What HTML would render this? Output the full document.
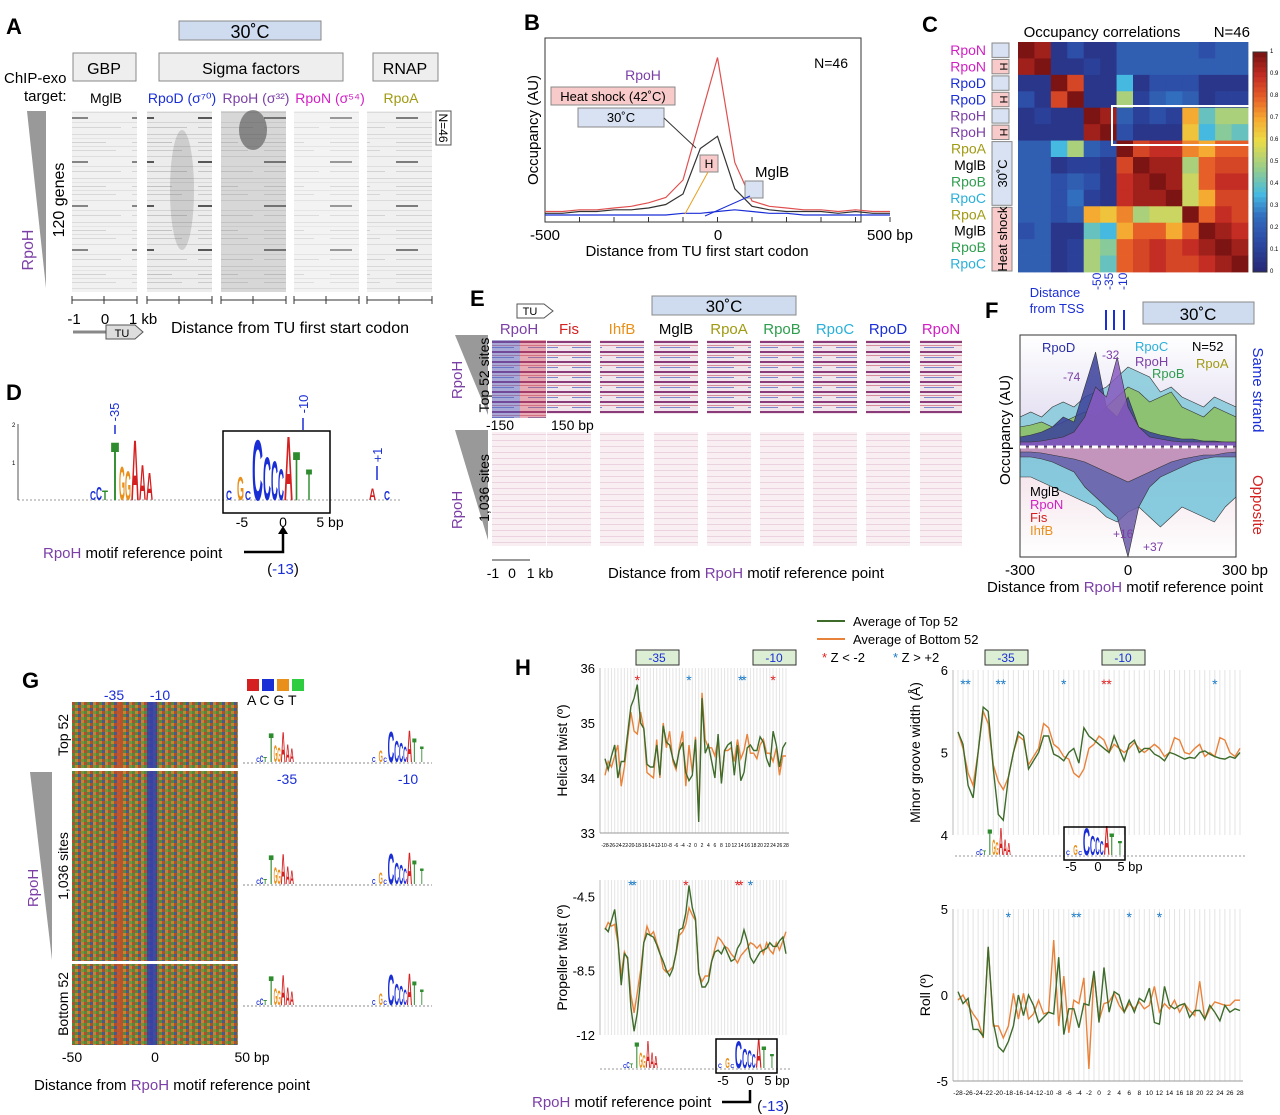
<!DOCTYPE html>
<html><head><meta charset="utf-8">
<style>
html,body{margin:0;padding:0;background:#fff;}
svg{display:block;font-family:"Liberation Sans",Arial,sans-serif;}
</style></head>
<body>
<svg id="fig" width="1280" height="1115" viewBox="0 0 1280 1115" xmlns="http://www.w3.org/2000/svg">
<defs>
  <pattern id="grayHeat" width="66" height="44" patternUnits="userSpaceOnUse">
    <rect width="66" height="44" fill="#eaeaea"/>
    <rect y="2" width="66" height="1" fill="#c8c8c8"/>
    <rect y="6" width="66" height="1" fill="#d6d6d6"/>
    <rect y="10" width="40" height="1" fill="#bbb"/>
    <rect y="14" width="66" height="1" fill="#d0d0d0"/>
    <rect y="18" width="50" height="1" fill="#c4c4c4"/>
    <rect y="24" width="66" height="1" fill="#ccc"/>
    <rect y="29" width="22" height="2" fill="#444"/>
    <rect y="34" width="66" height="1" fill="#d0d0d0"/>
    <rect y="39" width="55" height="1" fill="#c0c0c0"/>
  </pattern>
  <pattern id="colorHeat" width="12" height="6" patternUnits="userSpaceOnUse">
    <rect width="3" height="3" fill="#c23b2a"/><rect x="3" width="3" height="3" fill="#3d8f3a"/>
    <rect x="6" width="3" height="3" fill="#2e49b5"/><rect x="9" width="3" height="3" fill="#d88a2c"/>
    <rect y="3" width="3" height="3" fill="#3d8f3a"/><rect x="3" y="3" width="3" height="3" fill="#d88a2c"/>
    <rect x="6" y="3" width="3" height="3" fill="#c23b2a"/><rect x="9" y="3" width="3" height="3" fill="#6aa33a"/>
  </pattern>
  <pattern id="rbHeat" width="44" height="10" patternUnits="userSpaceOnUse">
    <rect width="44" height="10" fill="#f1e4ea"/>
    <rect y="1" width="44" height="2" fill="#8c3b7a"/>
    <rect y="5" width="44" height="1" fill="#d68a9a"/>
    <rect y="7" width="30" height="1" fill="#7d86c9"/>
  </pattern>
  <pattern id="pinkHeat" width="44" height="6" patternUnits="userSpaceOnUse">
    <rect width="44" height="6" fill="#f9eff3"/>
    <rect y="2" width="44" height="1" fill="#ead3de"/>
  </pattern>
  <linearGradient id="fUp" x1="0" y1="0" x2="0" y2="1"><stop offset="0" stop-color="#fff"/><stop offset="1" stop-color="#dcd6ee"/></linearGradient>
  <linearGradient id="fDn" x1="0" y1="0" x2="0" y2="1"><stop offset="0" stop-color="#f1dde6"/><stop offset="1" stop-color="#fff"/></linearGradient>
</defs>

<!-- Panel A -->
<g>
  <text x="6" y="34" font-size="22" font-weight="bold">A</text>
  <rect x="179" y="21" width="142" height="19" fill="#cfdcf0" stroke="#888"/>
  <text x="250" y="38" font-size="18" text-anchor="middle">30˚C</text>
  <rect x="73" y="53" width="63" height="28" fill="#eee" stroke="#888"/>
  <text x="104" y="74" font-size="16" text-anchor="middle">GBP</text>
  <rect x="159" y="53" width="184" height="28" fill="#eee" stroke="#888"/>
  <text x="251" y="74" font-size="16" text-anchor="middle">Sigma factors</text>
  <rect x="373" y="53" width="65" height="28" fill="#eee" stroke="#888"/>
  <text x="405" y="74" font-size="16" text-anchor="middle">RNAP</text>
  <text x="4" y="83" font-size="15">ChIP-exo</text>
  <text x="24" y="101" font-size="15">target:</text>
  <text x="106" y="103" font-size="14" text-anchor="middle">MglB</text>
  <text x="182" y="103" font-size="14" text-anchor="middle" fill="#1a2ed6">RpoD (σ⁷⁰)</text>
  <text x="256" y="103" font-size="14" text-anchor="middle" fill="#7b3fa6">RpoH (σ³²)</text>
  <text x="330" y="103" font-size="14" text-anchor="middle" fill="#d21fc4">RpoN (σ⁵⁴)</text>
  <text x="401" y="103" font-size="14" text-anchor="middle" fill="#a09a12">RpoA</text>
  <polygon points="27,111 46,111 46,288" fill="#999"/>
  <text transform="translate(64,200) rotate(-90)" font-size="16" text-anchor="middle">120 genes</text>
  <text transform="translate(33,250) rotate(-90)" font-size="16" text-anchor="middle" fill="#7b3fa6">RpoH</text>
  <g id="aHeat"></g>
  <rect x="436" y="111" width="15" height="34" fill="#fff" stroke="#555"/>
  <text transform="translate(439,128) rotate(90)" font-size="12" text-anchor="middle">N=46</text>
  <text x="74" y="324" font-size="15" text-anchor="middle">-1</text>
  <text x="105" y="324" font-size="15" text-anchor="middle">0</text>
  <text x="143" y="324" font-size="15" text-anchor="middle">1 kb</text>
  <line x1="73" y1="332" x2="108" y2="332" stroke="#888" stroke-width="3"/>
  <polygon points="106,325 135,325 143,332 135,339 106,339" fill="#ddd" stroke="#555"/>
  <text x="122" y="337" font-size="11" text-anchor="middle">TU</text>
  <text x="290" y="333" font-size="16" text-anchor="middle">Distance from TU first start codon</text>
</g>

<!-- Panel B -->
<g>
  <text x="524" y="30" font-size="22" font-weight="bold">B</text>
  <rect x="545" y="38" width="316" height="184" fill="none" stroke="#333"/>
  <g id="bChart"></g>
  <text x="848" y="68" font-size="14" text-anchor="end">N=46</text>
  <text x="643" y="80" font-size="14" text-anchor="middle" fill="#7b3fa6">RpoH</text>
  <rect x="551" y="87" width="124" height="18" fill="#f8caca" stroke="#888"/>
  <text x="613" y="101" font-size="13" text-anchor="middle">Heat shock (42˚C)</text>
  <rect x="578" y="108" width="86" height="19" fill="#d8e2f2" stroke="#888"/>
  <text x="621" y="122" font-size="13" text-anchor="middle">30˚C</text>
  <rect x="700" y="155" width="18" height="17" fill="#f8caca" stroke="#888"/>
  <text x="709" y="168" font-size="12" text-anchor="middle">H</text>
  <rect x="745" y="181" width="18" height="17" fill="#d8e2f2" stroke="#888"/>
  <text x="755" y="177" font-size="15">MglB</text>
  <line x1="664" y1="118" x2="696" y2="148" stroke="#333"/>
  <line x1="708" y1="172" x2="685" y2="214" stroke="#e8a020"/>
  <line x1="750" y1="196" x2="705" y2="216" stroke="#1a2ed6"/>
  <text transform="translate(538,130) rotate(-90)" font-size="15" text-anchor="middle">Occupancy (AU)</text>
  <text x="545" y="240" font-size="15" text-anchor="middle">-500</text>
  <text x="718" y="240" font-size="15" text-anchor="middle">0</text>
  <text x="890" y="240" font-size="15" text-anchor="middle">500 bp</text>
  <text x="697" y="256" font-size="15" text-anchor="middle">Distance from TU first start codon</text>
</g>

<!-- Panel C -->
<g>
  <text x="922" y="32" font-size="22" font-weight="bold">C</text>
  <text x="1102" y="37" font-size="15" text-anchor="middle">Occupancy correlations</text>
  <text x="1250" y="37" font-size="15" text-anchor="end">N=46</text>
  <g id="cChart"></g>
  <g id="cLabels"></g>
  <rect x="1112" y="106" width="138" height="39" fill="none" stroke="#fff" stroke-width="2"/>
  <g id="cBar"></g>
  <rect x="1253" y="52" width="14" height="220" fill="none" stroke="#333"/>
</g>

<!-- Panel D -->
<g>
  <text x="6" y="400" font-size="22" font-weight="bold">D</text>
  <line x1="18" y1="500" x2="400" y2="500" stroke="#999" stroke-dasharray="2,2"/>
  <line x1="18" y1="424" x2="18" y2="500" stroke="#555"/>
  <text x="12" y="427" font-size="6">2</text>
  <text x="12" y="465" font-size="6">1</text>
  <text transform="translate(119,412) rotate(-90)" font-size="13" fill="#1a2ed6" text-anchor="middle">-35</text>
  <line x1="115" y1="425" x2="115" y2="434" stroke="#1a2ed6" stroke-width="1.5"/>
  <text transform="translate(308,404) rotate(-90)" font-size="13" fill="#1a2ed6" text-anchor="middle">-10</text>
  <line x1="303" y1="418" x2="303" y2="430" stroke="#1a2ed6" stroke-width="1.5"/>
  <text transform="translate(382,455) rotate(-90)" font-size="13" fill="#1a2ed6" text-anchor="middle">+1</text>
  <line x1="377" y1="466" x2="377" y2="480" stroke="#1a2ed6" stroke-width="1.5"/>
  <g id="dLogo"></g>
  <rect x="223" y="431" width="107" height="82" fill="none" stroke="#000" stroke-width="1.5"/>
  <text x="242" y="527" font-size="14" text-anchor="middle">-5</text>
  <text x="283" y="527" font-size="14" text-anchor="middle">0</text>
  <text x="330" y="527" font-size="14" text-anchor="middle">5 bp</text>
  <text x="43" y="558" font-size="15"><tspan fill="#7b3fa6">RpoH</tspan> motif reference point</text>
  <path d="M244,552 H283 V532" fill="none" stroke="#000" stroke-width="2.5"/>
  <polygon points="278,534 288,534 283,526" fill="#000"/>
  <text x="283" y="574" font-size="15" text-anchor="middle">(<tspan fill="#1a2ed6">-13</tspan>)</text>
</g>

<!-- Panel E -->
<g>
  <text x="470" y="306" font-size="22" font-weight="bold">E</text>
  <polygon points="517,304 544,304 553,311 544,318 517,318" fill="#fff" stroke="#555"/>
  <text x="530" y="315" font-size="11" text-anchor="middle">TU</text>
  <rect x="652" y="296" width="144" height="19" fill="#cfdcf0" stroke="#888"/>
  <text x="724" y="312" font-size="17" text-anchor="middle">30˚C</text>
  <polygon points="455,335 488,335 488,415" fill="#999"/>
  <polygon points="455,430 488,430 488,540" fill="#999"/>
  <text transform="translate(462,380) rotate(-90)" font-size="15" text-anchor="middle" fill="#7b3fa6">RpoH</text>
  <text transform="translate(489,375) rotate(-90)" font-size="14" text-anchor="middle">Top 52 sites</text>
  <text transform="translate(462,510) rotate(-90)" font-size="15" text-anchor="middle" fill="#7b3fa6">RpoH</text>
  <text transform="translate(489,488) rotate(-90)" font-size="14" text-anchor="middle">1,036 sites</text>
  <g id="eHeat"></g>
  <text x="486" y="430" font-size="14">-150</text>
  <text x="551" y="430" font-size="14">150 bp</text>
  <text x="493" y="578" font-size="14" text-anchor="middle">-1</text>
  <text x="512" y="578" font-size="14" text-anchor="middle">0</text>
  <text x="540" y="578" font-size="14" text-anchor="middle">1 kb</text>
  <line x1="492" y1="560" x2="530" y2="560" stroke="#333"/>
  <text x="746" y="578" font-size="15" text-anchor="middle">Distance from <tspan fill="#7b3fa6">RpoH</tspan> motif reference point</text>
</g>

<!-- Panel F -->
<g>
  <text x="985" y="318" font-size="22" font-weight="bold">F</text>
  <text x="1055" y="297" font-size="13" text-anchor="middle" fill="#1a2ed6">Distance</text>
  <text x="1057" y="313" font-size="13" text-anchor="middle" fill="#1a2ed6">from TSS</text>
  <text x="1101" y="290" font-size="12" fill="#1a2ed6" transform="rotate(-90 1101 290)">-50</text>
  <text x="1113" y="290" font-size="12" fill="#1a2ed6" transform="rotate(-90 1113 290)">-35</text>
  <text x="1127" y="290" font-size="12" fill="#1a2ed6" transform="rotate(-90 1127 290)">-10</text>
  <path d="M1106,310 V330 M1114,310 V330 M1124,310 V330" stroke="#1a2ed6" stroke-width="2"/>
  <rect x="1143" y="302" width="111" height="22" fill="#cfdcf0" stroke="#888"/>
  <text x="1198" y="320" font-size="17" text-anchor="middle">30˚C</text>
  <rect x="1020" y="335" width="216" height="112" fill="url(#fUp)"/>
  <rect x="1020" y="447" width="216" height="110" fill="url(#fDn)"/>
  <g id="fChart"></g>
  <rect x="1020" y="335" width="216" height="222" fill="none" stroke="#333"/>
  <line x1="1020" y1="447" x2="1236" y2="447" stroke="#fff" stroke-width="3" stroke-dasharray="6,3"/>
  <text x="1192" y="351" font-size="13">N=52</text>
  <text x="1042" y="352" font-size="13" fill="#2a2ea6">RpoD</text>
  <text x="1135" y="351" font-size="13" fill="#2ab0d8">RpoC</text>
  <text x="1135" y="366" font-size="13" fill="#7b3fa6">RpoH</text>
  <text x="1152" y="378" font-size="13" fill="#2e9e4e">RpoB</text>
  <text x="1196" y="368" font-size="13" fill="#a09a12">RpoA</text>
  <text x="1102" y="359" font-size="12" fill="#7b3fa6">-32</text>
  <text x="1063" y="381" font-size="12" fill="#7b3fa6">-74</text>
  <text x="1030" y="496" font-size="13">MglB</text>
  <text x="1030" y="509" font-size="13" fill="#d21fc4">RpoN</text>
  <text x="1030" y="522" font-size="13" fill="#d42020">Fis</text>
  <text x="1030" y="535" font-size="13" fill="#e8901a">IhfB</text>
  <text x="1113" y="538" font-size="12" fill="#7b3fa6">+16</text>
  <text x="1143" y="551" font-size="12" fill="#7b3fa6">+37</text>
  <text transform="translate(1010,430) rotate(-90)" font-size="15" text-anchor="middle">Occupancy (AU)</text>
  <text transform="translate(1253,390) rotate(90)" font-size="15" text-anchor="middle" fill="#1a2ed6">Same strand</text>
  <text transform="translate(1253,505) rotate(90)" font-size="15" text-anchor="middle" fill="#d42020">Opposite</text>
  <text x="1020" y="575" font-size="15" text-anchor="middle">-300</text>
  <text x="1128" y="575" font-size="15" text-anchor="middle">0</text>
  <text x="1245" y="575" font-size="15" text-anchor="middle">300 bp</text>
  <text x="1125" y="592" font-size="15" text-anchor="middle">Distance from <tspan fill="#7b3fa6">RpoH</tspan> motif reference point</text>
</g>

<!-- Panel G -->
<g>
  <text x="22" y="688" font-size="22" font-weight="bold">G</text>
  <text x="114" y="700" font-size="14" fill="#1a2ed6" text-anchor="middle">-35</text>
  <text x="160" y="700" font-size="14" fill="#1a2ed6" text-anchor="middle">-10</text>
  <rect x="72" y="702" width="166" height="343" fill="url(#colorHeat)"/>
  <rect x="72" y="702" width="166" height="343" fill="#8a7a40" opacity="0.3"/>
  <rect x="117" y="702" width="6" height="343" fill="#c84a2a" opacity="0.8"/>
  <rect x="147" y="702" width="10" height="343" fill="#3040b0" opacity="0.85"/>
  <rect x="72" y="768" width="166" height="3" fill="#fff"/>
  <rect x="72" y="961" width="166" height="3" fill="#fff"/>
  <polygon points="30,772 52,772 52,960" fill="#999"/>
  <text transform="translate(38,888) rotate(-90)" font-size="15" text-anchor="middle" fill="#7b3fa6">RpoH</text>
  <text transform="translate(68,735) rotate(-90)" font-size="14" text-anchor="middle">Top 52</text>
  <text transform="translate(68,866) rotate(-90)" font-size="14" text-anchor="middle">1,036 sites</text>
  <text transform="translate(68,1004) rotate(-90)" font-size="14" text-anchor="middle">Bottom 52</text>
  <text x="72" y="1062" font-size="14" text-anchor="middle">-50</text>
  <text x="155" y="1062" font-size="14" text-anchor="middle">0</text>
  <text x="252" y="1062" font-size="14" text-anchor="middle">50 bp</text>
  <text x="172" y="1090" font-size="15" text-anchor="middle">Distance from <tspan fill="#7b3fa6">RpoH</tspan> motif reference point</text>
  <rect x="247" y="679" width="12" height="12" fill="#d42020"/>
  <rect x="262" y="679" width="12" height="12" fill="#1a2ed6"/>
  <rect x="277" y="679" width="12" height="12" fill="#e8901a"/>
  <rect x="292" y="679" width="12" height="12" fill="#2ecc40"/>
  <text x="247" y="705" font-size="14">A C G T</text>
  <text x="287" y="784" font-size="14" fill="#1a2ed6" text-anchor="middle">-35</text>
  <text x="408" y="784" font-size="14" fill="#1a2ed6" text-anchor="middle">-10</text>
  <g id="gLogos"></g>
</g>

<!-- Panel H -->
<g>
  <text x="515" y="675" font-size="22" font-weight="bold">H</text>
  <line x1="817" y1="621" x2="845" y2="621" stroke="#3d6b2a" stroke-width="2"/>
  <text x="853" y="626" font-size="13">Average of Top 52</text>
  <line x1="817" y1="639" x2="845" y2="639" stroke="#e8823a" stroke-width="2"/>
  <text x="853" y="644" font-size="13">Average of Bottom 52</text>
  <text x="822" y="662" font-size="13"><tspan fill="#e02020">*</tspan> Z &lt; -2</text>
  <text x="893" y="662" font-size="13"><tspan fill="#1a7ac8">*</tspan> Z &gt; +2</text>
  <rect x="636" y="650" width="43" height="15" fill="#dcefd4" stroke="#333"/>
  <text x="657" y="662" font-size="12" fill="#1a2ed6" text-anchor="middle">-35</text>
  <rect x="753" y="650" width="43" height="15" fill="#dcefd4" stroke="#333"/>
  <text x="774" y="662" font-size="12" fill="#1a2ed6" text-anchor="middle">-10</text>
  <rect x="985" y="650" width="43" height="15" fill="#dcefd4" stroke="#333"/>
  <text x="1006" y="662" font-size="12" fill="#1a2ed6" text-anchor="middle">-35</text>
  <rect x="1102" y="650" width="43" height="15" fill="#dcefd4" stroke="#333"/>
  <text x="1123" y="662" font-size="12" fill="#1a2ed6" text-anchor="middle">-10</text>
  <g id="hCharts"></g>
  <g id="hLogos"></g>
  <line x1="600" y1="1069" x2="790" y2="1069" stroke="#999" stroke-dasharray="2,2"/>
  <rect x="716" y="1039" width="61" height="34" fill="none" stroke="#000" stroke-width="1.5"/>
  <text x="723" y="1085" font-size="13" text-anchor="middle">-5</text>
  <text x="750" y="1085" font-size="13" text-anchor="middle">0</text>
  <text x="777" y="1085" font-size="13" text-anchor="middle">5 bp</text>
  <text x="532" y="1107" font-size="15"><tspan fill="#7b3fa6">RpoH</tspan> motif reference point</text>
  <path d="M722,1102 H750 V1090" fill="none" stroke="#000" stroke-width="2.5"/>
  <text x="773" y="1111" font-size="15" text-anchor="middle">(<tspan fill="#1a2ed6">-13</tspan>)</text>
  <line x1="955" y1="856" x2="1245" y2="856" stroke="#999" stroke-dasharray="2,2"/>
  <rect x="1064" y="827" width="61" height="33" fill="none" stroke="#000" stroke-width="1.5"/>
  <text x="1071" y="871" font-size="13" text-anchor="middle">-5</text>
  <text x="1098" y="871" font-size="13" text-anchor="middle">0</text>
  <text x="1130" y="871" font-size="13" text-anchor="middle">5 bp</text>
</g>
</svg>

<script>
// ---- Panel B data ----
var bPositions = [-500,-450,-400,-350,-300,-250,-200,-150,-100,-50,0,50,100,150,200,250,300,350,400,450,500];
var bHeatShock = [2,2,3,3,4,5,7,10,20,55,90,30,8,5,4,3,3,2,3,2,2];
var bThirty    = [1,1,2,2,3,3,4,6,12,38,45,15,5,3,2,2,2,1,2,1,1];
var bMglB      = [0,0,0,0,0,0,0,0,1,1,2,3,2,1,1,0,0,0,0,0,0];

// ---- Panel C data ----
var cLabels = ["RpoN","RpoN","RpoD","RpoD","RpoH","RpoH","RpoA","MglB","RpoB","RpoC","RpoA","MglB","RpoB","RpoC"];
var cLabelColors = ["#d21fc4","#d21fc4","#1a2ed6","#1a2ed6","#7b3fa6","#7b3fa6","#a09a12","#000","#2e9e4e","#2ab0d8","#a09a12","#000","#2e9e4e","#2ab0d8"];
var cMatrix = [
 [1,.95,.05,.15,.05,.05,.2,.2,.2,.2,.2,.15,.2,.2],
 [.95,1,.05,.05,.1,.05,.2,.2,.2,.2,.2,.2,.2,.2],
 [.05,.05,1,.85,.05,.05,.35,.05,.15,.15,.15,.05,.05,.05],
 [.15,.05,.85,1,.05,.05,.5,.1,.2,.25,.2,.05,.1,.1],
 [.05,.1,.05,.05,1,.95,.2,.1,.15,.1,.7,.4,.5,.5],
 [.05,.05,.05,.05,.95,1,.15,.05,.05,.05,.65,.35,.45,.4],
 [.2,.2,.35,.5,.2,.15,1,.85,.9,.9,.75,.7,.8,.8],
 [.2,.2,.05,.1,.1,.05,.85,1,.95,.95,.5,.8,.85,.85],
 [.2,.2,.15,.2,.15,.05,.9,.95,1,.95,.55,.8,.9,.9],
 [.2,.2,.15,.25,.1,.05,.9,.95,.95,1,.55,.7,.85,.85],
 [.2,.2,.15,.2,.7,.65,.75,.5,.55,.55,1,.8,.9,.85],
 [.15,.2,.05,.05,.4,.35,.7,.8,.8,.7,.8,1,.95,.9],
 [.2,.2,.05,.1,.5,.45,.8,.85,.9,.85,.9,.95,1,.95],
 [.2,.2,.05,.1,.5,.4,.8,.85,.9,.85,.85,.9,.95,1]
];
var cBarTicks = ["0","0.1","0.2","0.3","0.4","0.5","0.6","0.7","0.8","0.9","1"];

// ---- Panel F data (step 30 bp) ----
var fPositions = [-300,-270,-240,-210,-180,-150,-120,-90,-60,-30,0,30,60,90,120,150,180,210,240,270,300];
var fUpRpoC = [30,35,30,40,45,40,50,55,60,70,80,75,70,55,60,50,45,40,50,45,40];
var fUpRpoB = [20,22,25,20,25,30,35,30,40,50,60,55,45,50,55,40,35,30,40,35,30];
var fUpRpoD = [10,12,15,20,30,25,60,95,40,30,50,20,15,12,10,8,8,6,6,5,5];
var fUpRpoH = [5,5,6,8,10,15,30,60,50,90,40,20,10,8,6,5,5,5,5,5,5];
var fDnCyan = [30,30,35,40,45,50,55,60,70,75,65,60,70,80,70,60,65,70,75,60,50];
var fDnPurple = [10,10,12,15,20,25,40,50,60,70,110,60,40,30,25,20,15,12,10,10,10];
var fDnPink = [5,5,6,8,10,12,15,20,25,30,35,30,25,20,15,12,10,8,8,6,5];

// ---- Sequence logo (panel D coordinates: letter, x, width, height in px) ----
var logoLeft = [["C",90,6,9,"#1a2ed6"],["C",96,6,13,"#1a2ed6"],["T",102,6,10,"#2e8b2e"],["T",111,8,60,"#2e8b2e"],["G",119,6,35,"#e8901a"],["G",125,6,30,"#e8901a"],["A",131,8,62,"#d42020"],["A",139,7,36,"#d42020"],["A",146,7,28,"#d42020"]];
var logoRight = [["C",226,6,10,"#1a2ed6"],["G",237,7,24,"#e8901a"],["C",245,6,9,"#1a2ed6"],["C",252,11,62,"#1a2ed6"],["C",263,8,44,"#1a2ed6"],["C",271,7,40,"#1a2ed6"],["C",278,6,32,"#1a2ed6"],["A",284,9,66,"#d42020"],["T",293,7,50,"#2e8b2e"],["T",306,6,32,"#2e8b2e"]];
var logoExtra = [["A",369,7,12,"#d42020"],["C",384,6,9,"#1a2ed6"]];

// ---- Panel H data (positions -28..28) ----
var hPositions = [];
for (var p = -28; p <= 28; p++) hPositions.push(p);
var hTickLabels = ["-28","-26","-24","-22","-20","-18","-16","-14","-12","-10","-8","-6","-4","-2","0","2","4","6","8","10","12","14","16","18","20","22","24","26","28"];
var helTop = [34.35,34.15,34.4,34.6,34.0,34.3,34.3,34.8,35.3,35.45,35.7,35.0,34.9,34.25,34.2,34.2,34.6,34.05,34.95,34.65,34.6,34.35,34.2,34.5,34.65,34.1,33.95,34.05,34.7,33.2,35.45,34.45,34.6,34.3,34.0,34.8,33.9,34.5,34.6,34.65,34.05,34.6,33.95,34.1,34.55,34.6,34.5,34.5,34.75,34.65,34.35,34.2,34.85,34.6,34.2,34.55,34.65];
var helBot = [34.05,34.3,34.2,34.4,34.6,33.85,34.2,34.7,35.2,34.85,34.8,35.2,34.9,34.1,34.05,34.0,34.7,34.0,35.0,34.55,34.85,34.3,34.15,34.55,34.85,33.85,34.6,34.1,34.75,33.3,35.55,34.7,34.55,34.55,34.4,34.7,33.95,34.5,34.5,34.55,34.3,34.7,34.35,34.5,34.8,34.45,34.45,34.35,34.6,34.7,34.45,34.45,34.3,34.55,34.05,34.4,34.4];
var mgwTop = [5.25,5.1,4.6,4.45,5.0,5.55,5.5,4.8,4.25,4.18,4.7,5.0,5.25,5.2,4.8,4.9,5.0,5.2,5.2,4.98,4.95,4.9,5.0,5.05,4.87,5.3,5.2,5.15,5.1,5.05,5.0,5.2,5.05,4.9,5.1,5.15,5.0,5.05,5.05,4.98,4.95,4.9,5.0,4.98,4.95,4.92,4.94,4.93,5.0,5.02,4.98,4.95,4.93,4.92,4.95,4.93,5.0];
var mgwBot = [5.25,5.05,4.75,4.6,5.0,5.5,5.35,4.85,4.65,4.55,4.7,5.0,5.2,5.15,4.85,4.95,5.05,5.35,5.3,5.1,5.05,4.95,4.92,4.75,4.7,4.8,5.05,5.1,5.2,5.15,5.0,5.1,5.05,5.0,5.05,5.12,5.05,5.0,5.05,5.1,5.05,4.95,5.0,5.18,5.15,5.0,4.98,5.05,5.1,4.95,5.0,4.95,5.18,5.15,5.0,4.95,5.05];
var propTop = [-6.2,-6.4,-5.8,-5.2,-6.8,-9.3,-7.6,-7.8,-10.5,-11.8,-10.8,-9.0,-7.0,-6.5,-6.6,-6.7,-7.1,-7.6,-8.0,-8.5,-8.8,-8.4,-7.5,-6.3,-6.2,-5.4,-3.9,-5.1,-5.7,-8.6,-9.4,-9.4,-9.1,-8.0,-7.5,-7.4,-7.6,-7.2,-7.6,-8.0,-7.9,-7.3,-7.0,-6.3,-6.9,-7.8,-8.1,-7.8,-7.5,-7.4,-7.3,-7.0,-7.2,-7.2,-6.9,-6.7,-7.6];
var propBot = [-6.3,-5.9,-6.1,-6.0,-7.0,-8.8,-7.5,-7.9,-9.8,-10.8,-9.7,-8.5,-7.0,-6.1,-6.6,-6.4,-7.0,-7.5,-8.4,-8.6,-8.5,-8.3,-7.6,-6.6,-6.4,-6.0,-5.1,-5.5,-5.8,-8.7,-9.1,-8.8,-8.8,-8.0,-7.3,-6.7,-6.9,-7.2,-7.3,-7.6,-7.8,-8.1,-7.7,-7.5,-7.3,-7.0,-7.1,-7.3,-7.1,-7.6,-7.0,-7.4,-7.6,-7.0,-7.4,-6.9,-6.4];
var rollTop = [0.2,-0.5,-0.2,-2.0,-2.0,-2.4,2.8,-1.6,-3.0,-3.3,-2.7,-1.8,0,-1.2,0,-0.6,-1.6,-1.3,-1.0,-1.1,2.2,-2.3,-0.8,-0.8,-1.9,-0.5,-0.6,1.4,-1.6,1.6,-1.0,0.2,0,-1.0,-0.3,-1.0,-0.2,-0.4,0.4,-1.6,-1.7,0.5,-0.6,-0.8,-0.6,-0.5,-1.3,-0.9,-0.9,-1.4,-0.6,-1.0,-1.5,-0.6,-1.0,-0.8,-0.9];
var rollBot = [-0.3,0,-0.6,-1.1,-1.5,-2.5,2.8,-1.8,-1.8,-2.5,-1.8,0.1,-1.4,0.1,-1.4,-1.1,-0.3,-1.1,-1.0,3.2,-1.8,1.1,-2.2,-0.3,-0.5,1.0,-4.3,1.3,-1.5,-0.5,-0.4,0.1,-0.6,-1.0,-0.5,-0.8,-0.4,-0.8,-0.6,0.5,-1.0,-0.5,-0.8,-0.3,-1.0,-0.5,-0.9,-1.2,0.8,-1.4,-0.8,-0.4,-0.5,-0.6,-0.6,-0.3,-0.3];
var helStarsRed = [-18,24], helStarsBlue = [-2,14,15];
var mgwStarsRed = [1,2], mgwStarsBlue = [-27,-26,-20,-19,-7,23];
var propStarsRed = [-3,13,14], propStarsBlue = [-20,-19,17];
var rollStarsBlue = [-18,-5,-4,6,12];

var NS = "http://www.w3.org/2000/svg";
function mk(tag, attrs, parent) {
  var e = document.createElementNS(NS, tag);
  for (var k in attrs) e.setAttribute(k, attrs[k]);
  parent.appendChild(e);
  return e;
}

// ---- logo drawing ----
function drawLogo(parent, letters, xOff, xScale, base, hScale, nameP) {
  letters.forEach(function (L) {
    var w = L[2] * xScale, h = L[3] * hScale;
    var fs = h / 0.72;
    var t = mk('text', {x: (xOff + L[1] * xScale).toFixed(1), y: base, 'font-size': fs.toFixed(1), 'font-weight': 'bold', fill: L[4], textLength: w.toFixed(1), lengthAdjust: 'spacingAndGlyphs'}, parent);
    t.textContent = L[0];
    
    
  });
}
(function () {
  var d = document.getElementById('dLogo');
  drawLogo(d, logoLeft, 0, 1, 500, 1, 'd-logo');
  drawLogo(d, logoRight, 0, 1, 500, 1, 'd-logo');
  drawLogo(d, logoExtra, 0, 1, 500, 1, 'd-logo');
  var gL = document.getElementById('gLogos');
  [762, 884, 1005].forEach(function (y) {
    var base = mk('line', {x1: 243, y1: y + 1, x2: 432, y2: y + 1, stroke: '#888', 'stroke-dasharray': '2,2'}, gL);
    
    
    drawLogo(gL, logoLeft, 255 - 88 * 0.6, 0.6, y, 0.5, 'g-logo');
    drawLogo(gL, logoRight, 372 - 226 * 0.6, 0.6, y, 0.5, 'g-logo');
  });
  var hL = document.getElementById('hLogos');
  drawLogo(hL, logoLeft, 975 - 88 * 0.55, 0.55, 855, 0.45, 'h-logo');
  drawLogo(hL, logoRight, 1066 - 226 * 0.65, 0.65, 855, 0.45, 'h-logo');
  drawLogo(hL, logoLeft, 622 - 88 * 0.55, 0.55, 1068, 0.45, 'h-logo');
  drawLogo(hL, logoRight, 718 - 226 * 0.65, 0.65, 1068, 0.45, 'h-logo');
})();

// ---- Panel A heatmaps ----
var aG = document.getElementById('aHeat');
var aCols = [72,147,221,294,367];
var aNames = ['mglb','rpod','rpoh','rpon','rpoa'];
var aTones = ['#fff','#fff','#bbb','#fff','#fff'];
var aOps = [0.35,0.1,0.4,0.45,0.3];
aCols.forEach(function (x, i) {
  var r = mk('rect', {x: x, y: 111, width: 65, height: 181, fill: 'url(#grayHeat)'}, aG);
  
  
  var t = mk('rect', {x: x, y: 111, width: 65, height: 181, fill: aTones[i], opacity: aOps[i]}, aG);
  
  
  var ax = mk('path', {d: 'M' + x + ',296 V304 M' + (x + 32) + ',296 V304 M' + (x + 65) + ',296 V304 M' + x + ',300 H' + (x + 65), stroke: '#333', fill: 'none'}, aG);
  
  
});
var blob = mk('ellipse', {cx: 253, cy: 130, rx: 14, ry: 20, fill: '#444', opacity: 0.55}, aG);


var blob2 = mk('ellipse', {cx: 182, cy: 190, rx: 12, ry: 60, fill: '#555', opacity: 0.2}, aG);



// ---- Panel B ----
(function () {
  var g = document.getElementById('bChart');
  function xs(v) { return 545 + (v + 500) / 1000 * 345; }
  function ys(v) { return 215 - v / 100 * 175; }
  [[bHeatShock, '#e05050', 'b-line-heatshock'], [bThirty, '#333', 'b-line-30c'], [bMglB, '#1a2ed6', 'b-line-mglb']].forEach(function (s) {
    var d = s[0].map(function (v, i) { return (i ? 'L' : 'M') + xs(bPositions[i]).toFixed(1) + ',' + ys(v).toFixed(1); }).join(' ');
    var pth = mk('path', {d: d, fill: 'none', stroke: s[1], 'stroke-width': 1.2}, g);
    
    
  });
  [-500, -400, -300, -200, -100, 0, 100, 200, 300, 400, 500].forEach(function (v) {
    var t = mk('line', {x1: xs(v), y1: 222, x2: xs(v), y2: 217, stroke: '#333'}, g);
    
    
  });
})();

// ---- Panel C ----
var cmapStops = [[0,[40,42,120]],[0.12,[44,70,160]],[0.25,[50,110,190]],[0.35,[70,185,225]],[0.47,[150,205,140]],[0.6,[235,220,70]],[0.7,[245,170,50]],[0.8,[230,95,40]],[0.9,[195,45,35]],[1,[125,20,20]]];
function cmap(v) {
  v = Math.max(0, Math.min(1, v));
  for (var i = 1; i < cmapStops.length; i++) {
    if (v <= cmapStops[i][0]) {
      var a = cmapStops[i - 1], b = cmapStops[i], t = (v - a[0]) / (b[0] - a[0]);
      return 'rgb(' + [0, 1, 2].map(function (k) { return Math.round(a[1][k] + (b[1][k] - a[1][k]) * t); }).join(',') + ')';
    }
  }
  return 'rgb(125,20,20)';
}
(function () {
  var g = document.getElementById('cChart');
  var x0 = 1018, y0 = 42, cs = 230 / 14;
  cMatrix.forEach(function (row, i) {
    row.forEach(function (v, j) {
      var r = mk('rect', {x: (x0 + j * cs).toFixed(2), y: (y0 + i * cs).toFixed(2), width: (cs + 0.4).toFixed(2), height: (cs + 0.4).toFixed(2), fill: cmap(v)}, g);
      
      
    });
  });
  var lg = document.getElementById('cLabels');
  cLabels.forEach(function (l, i) {
    var t = mk('text', {x: 986, y: (y0 + i * cs + 13).toFixed(1), 'font-size': 14, 'text-anchor': 'end', fill: cLabelColors[i]}, lg);
    t.textContent = l;
    
    
  });
  for (var k = 0; k < 3; k++) {
    var yA = y0 + k * 2 * cs;
    var b1 = mk('rect', {x: 992, y: (yA + 1).toFixed(1), width: 17, height: (cs - 2).toFixed(1), fill: '#d8e2f2', stroke: '#888'}, lg);
    
    
    var b2 = mk('rect', {x: 992, y: (yA + cs + 1).toFixed(1), width: 17, height: (cs - 2).toFixed(1), fill: '#f8caca', stroke: '#888'}, lg);
    
    
    var ht = mk('text', {x: 1000, y: (yA + cs * 1.5).toFixed(1), 'font-size': 11, 'text-anchor': 'middle', transform: 'rotate(90 1000 ' + (yA + cs * 1.5).toFixed(1) + ')'}, lg);
    ht.textContent = 'H';
    
    
  }
  var bb = mk('rect', {x: 992, y: (y0 + 6 * cs + 1).toFixed(1), width: 20, height: (4 * cs - 2).toFixed(1), fill: '#d8e2f2', stroke: '#888'}, lg);
  
  
  var bt = mk('text', {x: 0, y: 0, 'font-size': 13, 'text-anchor': 'middle', transform: 'translate(1007,' + (y0 + 8 * cs).toFixed(1) + ') rotate(-90)'}, lg);
  bt.textContent = '30˚C';
  
  
  var hb = mk('rect', {x: 992, y: (y0 + 10 * cs + 1).toFixed(1), width: 20, height: (4 * cs - 2).toFixed(1), fill: '#f8caca', stroke: '#888'}, lg);
  
  
  var hsT = mk('text', {x: 0, y: 0, 'font-size': 13, 'text-anchor': 'middle', transform: 'translate(1007,' + (y0 + 12 * cs).toFixed(1) + ') rotate(-90)'}, lg);
  hsT.textContent = 'Heat shock';
  
  
  var bar = document.getElementById('cBar');
  for (var s = 0; s < 44; s++) {
    var r = mk('rect', {x: 1253, y: 272 - (s + 1) * 5, width: 14, height: 5.3, fill: cmap(s / 43)}, bar);
    
    
  }
  cBarTicks.forEach(function (t, i) {
    var tx = mk('text', {x: 1270, y: 273 - i * 22, 'font-size': 6}, bar);
    tx.textContent = t;
    
    
  });
})();

// ---- Panel E heatmaps ----
(function () {
  var g = document.getElementById('eHeat');
  var cols = [[492,54,'RpoH','#7b3fa6'],[547,44,'Fis','#d42020'],[600,44,'IhfB','#e8901a'],[654,44,'MglB','#000'],[707,44,'RpoA','#a09a12'],[760,44,'RpoB','#2e9e4e'],[813,44,'RpoC','#2ab0d8'],[866,44,'RpoD','#1a2ed6'],[920,42,'RpoN','#d21fc4']];
  cols.forEach(function (c) {
    var t = mk('text', {x: c[0] + c[1] / 2, y: 334, 'font-size': 15, 'text-anchor': 'middle', fill: c[3]}, g);
    t.textContent = c[2];
    
    
    var r = mk('rect', {x: c[0], y: 340, width: c[1], height: c[0] === 492 ? 78 : 74, fill: 'url(#rbHeat)'}, g);
    
    
    var r2 = mk('rect', {x: c[0], y: 432, width: c[1], height: 114, fill: 'url(#pinkHeat)'}, g);
    
    
  });
  var ov = mk('rect', {x: 492, y: 340, width: 28, height: 78, fill: '#5060c0', opacity: 0.45}, g);
  
  
  var ov2 = mk('rect', {x: 520, y: 340, width: 26, height: 78, fill: '#d04050', opacity: 0.35}, g);
  
  
})();

// ---- Panel F ----
(function () {
  var g = document.getElementById('fChart');
  function xs(v) { return 1020 + (v + 300) / 600 * 216; }
  function area(vals, sign, fill, op, name) {
    var d = 'M' + xs(fPositions[0]) + ',447 ' + vals.map(function (v, i) { return 'L' + xs(fPositions[i]).toFixed(1) + ',' + (447 - sign * v).toFixed(1); }).join(' ') + ' L' + xs(fPositions[fPositions.length - 1]) + ',447 Z';
    var pth = mk('path', {d: d, fill: fill, 'fill-opacity': op, stroke: '#333', 'stroke-width': 0.6}, g);
    
    
  }
  area(fUpRpoC, 1, '#7ec8d8', 0.8, 'f-area-rpoc');
  area(fUpRpoB, 1, '#8cc060', 0.85, 'f-area-rpob');
  area(fUpRpoD, 1, '#3a3f9a', 0.85, 'f-area-rpod');
  area(fUpRpoH, 1, '#8a5ac0', 0.85, 'f-area-rpoh');
  area(fDnCyan, -1, '#6cc0d8', 0.8, 'f-area-down-rpoc');
  area(fDnPurple, -1, '#6a5aa8', 0.85, 'f-area-down-rpoh');
  area(fDnPink, -1, '#d8a0c0', 0.8, 'f-area-down-other');
})();

// ---- Panel H ----
(function () {
  var g = document.getElementById('hCharts');
  function chart(cfg) {
    var cg = mk('g', {}, g);
    
    
    function xs(p) { return cfg.x0 + (p + 28) / 56 * (cfg.x1 - cfg.x0); }
    function ys(v) { return cfg.yTop + (cfg.vTop - v) / (cfg.vTop - cfg.vBot) * (cfg.yBot - cfg.yTop); }
    hPositions.forEach(function (p) {
      var l = mk('line', {x1: xs(p), y1: cfg.yTop, x2: xs(p), y2: cfg.gridBot, stroke: '#e4e4e4', 'stroke-width': 1}, cg);
      
      
    });
    var ax = mk('line', {x1: cfg.x0 - 5, y1: cfg.yTop, x2: cfg.x0 - 5, y2: cfg.gridBot, stroke: '#bbb'}, cg);
    
    
    cfg.ticks.forEach(function (t) {
      var tx = mk('text', {x: cfg.x0 - 10, y: ys(t[0]) + 5, 'font-size': 13, 'text-anchor': 'end'}, cg);
      tx.textContent = t[1];
      
      
    });
    var yt = mk('text', {x: 0, y: 0, 'font-size': 14, 'text-anchor': 'middle', transform: 'translate(' + cfg.titleX + ',' + ((cfg.yTop + cfg.yBot) / 2) + ') rotate(-90)'}, cg);
    yt.textContent = cfg.title;
    
    
    if (cfg.xLabels) {
      var bl = mk('line', {x1: cfg.x0 - 5, y1: cfg.yBot, x2: cfg.x1 + 3, y2: cfg.yBot, stroke: '#999'}, cg);
      
      
      hTickLabels.forEach(function (lab) {
        var tx = mk('text', {x: xs(parseInt(lab, 10)), y: cfg.yBot + 14, 'font-size': cfg.xFont, 'text-anchor': 'middle'}, cg);
        tx.textContent = lab;
        
        
      });
    }
    [[cfg.bot, '#e8823a', 'series-bottom52'], [cfg.top, '#3d6b2a', 'series-top52']].forEach(function (s) {
      var d = s[0].map(function (v, i) { return (i ? 'L' : 'M') + xs(hPositions[i]).toFixed(1) + ',' + ys(v).toFixed(1); }).join(' ');
      var pth = mk('path', {d: d, fill: 'none', stroke: s[1], 'stroke-width': 1.4}, cg);
      
      
    });
    [[cfg.red || [], '#e02020'], [cfg.blue || [], '#1a7ac8']].forEach(function (s) {
      s[0].forEach(function (p) {
        var st = mk('text', {x: xs(p), y: cfg.starY, 'font-size': 14, 'text-anchor': 'middle', fill: s[1]}, cg);
        st.textContent = '*';
        
        
      });
    });
  }
  chart({name: 'chart-helical-twist', x0: 605, x1: 786, yTop: 668, yBot: 833, gridBot: 833, vTop: 36, vBot: 33, ticks: [[36,'36'],[35,'35'],[34,'34'],[33,'33']], title: 'Helical twist (º)', titleX: 567, top: helTop, bot: helBot, red: helStarsRed, blue: helStarsBlue, starY: 685, xLabels: true, xFont: 5});
  chart({name: 'chart-minor-groove', x0: 958, x1: 1240, yTop: 670, yBot: 835, gridBot: 835, vTop: 6, vBot: 4, ticks: [[6,'6'],[5,'5'],[4,'4']], title: 'Minor groove width (Å)', titleX: 920, top: mgwTop, bot: mgwBot, red: mgwStarsRed, blue: mgwStarsBlue, starY: 689, xLabels: false});
  chart({name: 'chart-propeller-twist', x0: 605, x1: 786, yTop: 880, yBot: 1035, gridBot: 1035, vTop: -3.6, vBot: -12, ticks: [[-4.5,'-4.5'],[-8.5,'-8.5'],[-12,'-12']], title: 'Propeller twist (º)', titleX: 567, top: propTop, bot: propBot, red: propStarsRed, blue: propStarsBlue, starY: 890, xLabels: false});
  chart({name: 'chart-roll', x0: 958, x1: 1240, yTop: 909, yBot: 1081, gridBot: 1081, vTop: 5, vBot: -5, ticks: [[5,'5'],[0,'0'],[-5,'-5']], title: 'Roll (º)', titleX: 930, top: rollTop, bot: rollBot, blue: rollStarsBlue, starY: 922, xLabels: true, xFont: 6.5});
})();
</script>
</body></html>
